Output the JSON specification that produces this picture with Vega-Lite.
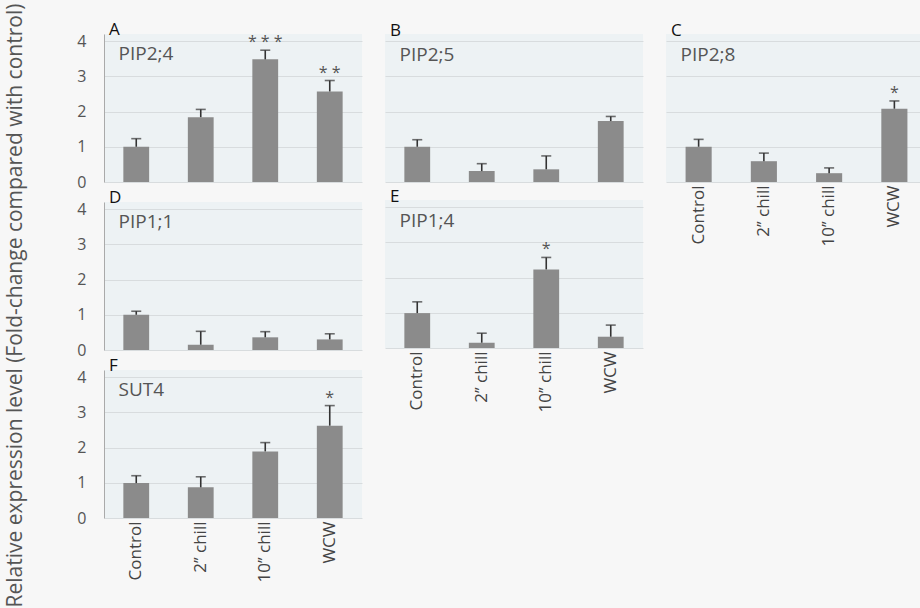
{
  "$schema": "https://vega.github.io/schema/vega-lite/v6.json",
  "background": "#f7f7f7",
  "padding": {"left": 4, "top": 3, "right": 0, "bottom": 0},
  "title": {"text": "Relative expression level (Fold-change compared with control)", "orient": "left", "anchor": "middle", "fontSize": 21, "fontWeight": "normal", "color": "#555555", "offset": 51, "dx": -4},
  "data": {"values": [
    {"panel": "A", "treatment": "Control", "value": 1.0, "err": 1.23, "sig": ""},
    {"panel": "A", "treatment": "2’’ chill", "value": 1.84, "err": 2.06, "sig": ""},
    {"panel": "A", "treatment": "10’’ chill", "value": 3.48, "err": 3.74, "sig": "* * *"},
    {"panel": "A", "treatment": "WCW", "value": 2.57, "err": 2.88, "sig": "* *"},
    {"panel": "B", "treatment": "Control", "value": 1.0, "err": 1.2, "sig": ""},
    {"panel": "B", "treatment": "2’’ chill", "value": 0.31, "err": 0.52, "sig": ""},
    {"panel": "B", "treatment": "10’’ chill", "value": 0.36, "err": 0.74, "sig": ""},
    {"panel": "B", "treatment": "WCW", "value": 1.73, "err": 1.86, "sig": ""},
    {"panel": "C", "treatment": "Control", "value": 1.0, "err": 1.21, "sig": ""},
    {"panel": "C", "treatment": "2’’ chill", "value": 0.59, "err": 0.82, "sig": ""},
    {"panel": "C", "treatment": "10’’ chill", "value": 0.25, "err": 0.4, "sig": ""},
    {"panel": "C", "treatment": "WCW", "value": 2.08, "err": 2.3, "sig": "*"},
    {"panel": "D", "treatment": "Control", "value": 1.0, "err": 1.1, "sig": ""},
    {"panel": "D", "treatment": "2’’ chill", "value": 0.15, "err": 0.53, "sig": ""},
    {"panel": "D", "treatment": "10’’ chill", "value": 0.36, "err": 0.52, "sig": ""},
    {"panel": "D", "treatment": "WCW", "value": 0.3, "err": 0.46, "sig": ""},
    {"panel": "E", "treatment": "Control", "value": 0.99, "err": 1.31, "sig": ""},
    {"panel": "E", "treatment": "2’’ chill", "value": 0.15, "err": 0.42, "sig": ""},
    {"panel": "E", "treatment": "10’’ chill", "value": 2.23, "err": 2.57, "sig": "*"},
    {"panel": "E", "treatment": "WCW", "value": 0.32, "err": 0.65, "sig": ""},
    {"panel": "F", "treatment": "Control", "value": 0.99, "err": 1.2, "sig": ""},
    {"panel": "F", "treatment": "2’’ chill", "value": 0.87, "err": 1.17, "sig": ""},
    {"panel": "F", "treatment": "10’’ chill", "value": 1.89, "err": 2.14, "sig": ""},
    {"panel": "F", "treatment": "WCW", "value": 2.62, "err": 3.19, "sig": "*"}
  ]},
  "config": {"view": {"fill": "#edf2f4", "stroke": null}, "font": "Open Sans"},
  "spacing": 23,
  "hconcat": [
    {"spacing": -1, "vconcat": [
      {"width": 258, "height": 148,
       "title": {"text": "A", "subtitle": "\u200b\u2002PIP2;4", "anchor": "start", "frame": "group", "fontSize": 17, "fontWeight": "normal", "color": "#111111", "subtitleFontSize": 19, "subtitleColor": "#555555", "subtitlePadding": 6, "offset": -32, "dx": 5},
       "transform": [{"filter": "datum.panel == 'A'"}],
       "encoding": {
         "x": {"field": "treatment", "type": "nominal", "sort": ["Control", "2’’ chill", "10’’ chill", "WCW"], "scale": {"paddingInner": 0.6, "paddingOuter": 0.3}, "axis": null},
         "y": {"field": "value", "type": "quantitative", "scale": {"domain": [0, 4.2], "nice": false}, "axis": {"values": [0, 1, 2, 3, 4], "title": null, "grid": true, "gridColor": "#d8dcde", "domain": true, "domainColor": "#aaaaaa", "ticks": false, "labelFontSize": 16, "labelColor": "#555555", "labelPadding": 18}}
       },
       "layer": [
         {"mark": {"type": "bar", "color": "#8b8b8b"}},
         {"mark": {"type": "rule", "color": "#333333", "strokeWidth": 1.6}, "encoding": {"y2": {"field": "err"}}},
         {"mark": {"type": "tick", "color": "#333333", "size": 10, "thickness": 1.6}, "encoding": {"y": {"field": "err", "type": "quantitative"}}},
         {"mark": {"type": "text", "fontSize": 16, "color": "#555555", "dy": -3, "baseline": "alphabetic"}, "encoding": {"y": {"field": "err", "type": "quantitative"}, "text": {"field": "sig"}}}
       ]},
      {"width": 258, "height": 148,
       "title": {"text": "D", "subtitle": "\u200b\u2002PIP1;1", "anchor": "start", "frame": "group", "fontSize": 17, "fontWeight": "normal", "color": "#111111", "subtitleFontSize": 19, "subtitleColor": "#555555", "subtitlePadding": 6, "offset": -32, "dx": 5},
       "transform": [{"filter": "datum.panel == 'D'"}],
       "encoding": {
         "x": {"field": "treatment", "type": "nominal", "sort": ["Control", "2’’ chill", "10’’ chill", "WCW"], "scale": {"paddingInner": 0.6, "paddingOuter": 0.3}, "axis": null},
         "y": {"field": "value", "type": "quantitative", "scale": {"domain": [0, 4.2], "nice": false}, "axis": {"values": [0, 1, 2, 3, 4], "title": null, "grid": true, "gridColor": "#d8dcde", "domain": true, "domainColor": "#aaaaaa", "ticks": false, "labelFontSize": 16, "labelColor": "#555555", "labelPadding": 18}}
       },
       "layer": [
         {"mark": {"type": "bar", "color": "#8b8b8b"}},
         {"mark": {"type": "rule", "color": "#333333", "strokeWidth": 1.6}, "encoding": {"y2": {"field": "err"}}},
         {"mark": {"type": "tick", "color": "#333333", "size": 10, "thickness": 1.6}, "encoding": {"y": {"field": "err", "type": "quantitative"}}},
         {"mark": {"type": "text", "fontSize": 16, "color": "#555555", "dy": -3, "baseline": "alphabetic"}, "encoding": {"y": {"field": "err", "type": "quantitative"}, "text": {"field": "sig"}}}
       ]},
      {"width": 258, "height": 148,
       "title": {"text": "F", "subtitle": "\u200b\u2002SUT4", "anchor": "start", "frame": "group", "fontSize": 17, "fontWeight": "normal", "color": "#111111", "subtitleFontSize": 19, "subtitleColor": "#555555", "subtitlePadding": 6, "offset": -32, "dx": 5},
       "transform": [{"filter": "datum.panel == 'F'"}],
       "encoding": {
         "x": {"field": "treatment", "type": "nominal", "sort": ["Control", "2’’ chill", "10’’ chill", "WCW"], "scale": {"paddingInner": 0.6, "paddingOuter": 0.3}, "axis": {"title": null, "labelAngle": -90, "labelFontSize": 17, "labelColor": "#444444", "labelPadding": 3, "ticks": false, "domain": false}},
         "y": {"field": "value", "type": "quantitative", "scale": {"domain": [0, 4.2], "nice": false}, "axis": {"values": [0, 1, 2, 3, 4], "title": null, "grid": true, "gridColor": "#d8dcde", "domain": true, "domainColor": "#aaaaaa", "ticks": false, "labelFontSize": 16, "labelColor": "#555555", "labelPadding": 18}}
       },
       "layer": [
         {"mark": {"type": "bar", "color": "#8b8b8b"}},
         {"mark": {"type": "rule", "color": "#333333", "strokeWidth": 1.6}, "encoding": {"y2": {"field": "err"}}},
         {"mark": {"type": "tick", "color": "#333333", "size": 10, "thickness": 1.6}, "encoding": {"y": {"field": "err", "type": "quantitative"}}},
         {"mark": {"type": "text", "fontSize": 16, "color": "#555555", "dy": -3, "baseline": "alphabetic"}, "encoding": {"y": {"field": "err", "type": "quantitative"}, "text": {"field": "sig"}}}
       ]}
    ]},
    {"spacing": 6, "vconcat": [
      {"width": 258, "height": 148,
       "title": {"text": "B", "subtitle": "\u200b\u2002PIP2;5", "anchor": "start", "frame": "group", "fontSize": 17, "fontWeight": "normal", "color": "#111111", "subtitleFontSize": 19, "subtitleColor": "#555555", "subtitlePadding": 6, "offset": -32, "dx": 5},
       "transform": [{"filter": "datum.panel == 'B'"}],
       "encoding": {
         "x": {"field": "treatment", "type": "nominal", "sort": ["Control", "2’’ chill", "10’’ chill", "WCW"], "scale": {"paddingInner": 0.6, "paddingOuter": 0.3}, "axis": null},
         "y": {"field": "value", "type": "quantitative", "scale": {"domain": [0, 4.2], "nice": false}, "axis": {"values": [0, 1, 2, 3, 4], "title": null, "grid": true, "gridColor": "#d8dcde", "domain": false, "ticks": false, "labels": false}}
       },
       "layer": [
         {"mark": {"type": "bar", "color": "#8b8b8b"}},
         {"mark": {"type": "rule", "color": "#333333", "strokeWidth": 1.6}, "encoding": {"y2": {"field": "err"}}},
         {"mark": {"type": "tick", "color": "#333333", "size": 10, "thickness": 1.6}, "encoding": {"y": {"field": "err", "type": "quantitative"}}},
         {"mark": {"type": "text", "fontSize": 16, "color": "#555555", "dy": -3, "baseline": "alphabetic"}, "encoding": {"y": {"field": "err", "type": "quantitative"}, "text": {"field": "sig"}}}
       ]},
      {"width": 258, "height": 148,
       "title": {"text": "E", "subtitle": "\u200b\u2002PIP1;4", "anchor": "start", "frame": "group", "fontSize": 17, "fontWeight": "normal", "color": "#111111", "subtitleFontSize": 19, "subtitleColor": "#555555", "subtitlePadding": 6, "offset": -32, "dx": 5},
       "transform": [{"filter": "datum.panel == 'E'"}],
       "encoding": {
         "x": {"field": "treatment", "type": "nominal", "sort": ["Control", "2’’ chill", "10’’ chill", "WCW"], "scale": {"paddingInner": 0.6, "paddingOuter": 0.3}, "axis": {"title": null, "labelAngle": -90, "labelFontSize": 17, "labelColor": "#444444", "labelPadding": 3, "ticks": false, "domain": false}},
         "y": {"field": "value", "type": "quantitative", "scale": {"domain": [0, 4.2], "nice": false}, "axis": {"values": [0, 1, 2, 3, 4], "title": null, "grid": true, "gridColor": "#d8dcde", "domain": false, "ticks": false, "labels": false}}
       },
       "layer": [
         {"mark": {"type": "bar", "color": "#8b8b8b"}},
         {"mark": {"type": "rule", "color": "#333333", "strokeWidth": 1.6}, "encoding": {"y2": {"field": "err"}}},
         {"mark": {"type": "tick", "color": "#333333", "size": 10, "thickness": 1.6}, "encoding": {"y": {"field": "err", "type": "quantitative"}}},
         {"mark": {"type": "text", "fontSize": 16, "color": "#555555", "dy": -3, "baseline": "alphabetic"}, "encoding": {"y": {"field": "err", "type": "quantitative"}, "text": {"field": "sig"}}}
       ]}
    ]},
    {"spacing": 6, "vconcat": [
      {"width": 261, "height": 148,
       "title": {"text": "C", "subtitle": "\u200b\u2002PIP2;8", "anchor": "start", "frame": "group", "fontSize": 17, "fontWeight": "normal", "color": "#111111", "subtitleFontSize": 19, "subtitleColor": "#555555", "subtitlePadding": 6, "offset": -32, "dx": 5},
       "transform": [{"filter": "datum.panel == 'C'"}],
       "encoding": {
         "x": {"field": "treatment", "type": "nominal", "sort": ["Control", "2’’ chill", "10’’ chill", "WCW"], "scale": {"paddingInner": 0.6, "paddingOuter": 0.3}, "axis": {"title": null, "labelAngle": -90, "labelFontSize": 17, "labelColor": "#444444", "labelPadding": 3, "ticks": false, "domain": false}},
         "y": {"field": "value", "type": "quantitative", "scale": {"domain": [0, 4.2], "nice": false}, "axis": {"values": [0, 1, 2, 3, 4], "title": null, "grid": true, "gridColor": "#d8dcde", "domain": false, "ticks": false, "labels": false}}
       },
       "layer": [
         {"mark": {"type": "bar", "color": "#8b8b8b"}},
         {"mark": {"type": "rule", "color": "#333333", "strokeWidth": 1.6}, "encoding": {"y2": {"field": "err"}}},
         {"mark": {"type": "tick", "color": "#333333", "size": 10, "thickness": 1.6}, "encoding": {"y": {"field": "err", "type": "quantitative"}}},
         {"mark": {"type": "text", "fontSize": 16, "color": "#555555", "dy": -3, "baseline": "alphabetic"}, "encoding": {"y": {"field": "err", "type": "quantitative"}, "text": {"field": "sig"}}}
       ]}
    ]}
  ]
}
